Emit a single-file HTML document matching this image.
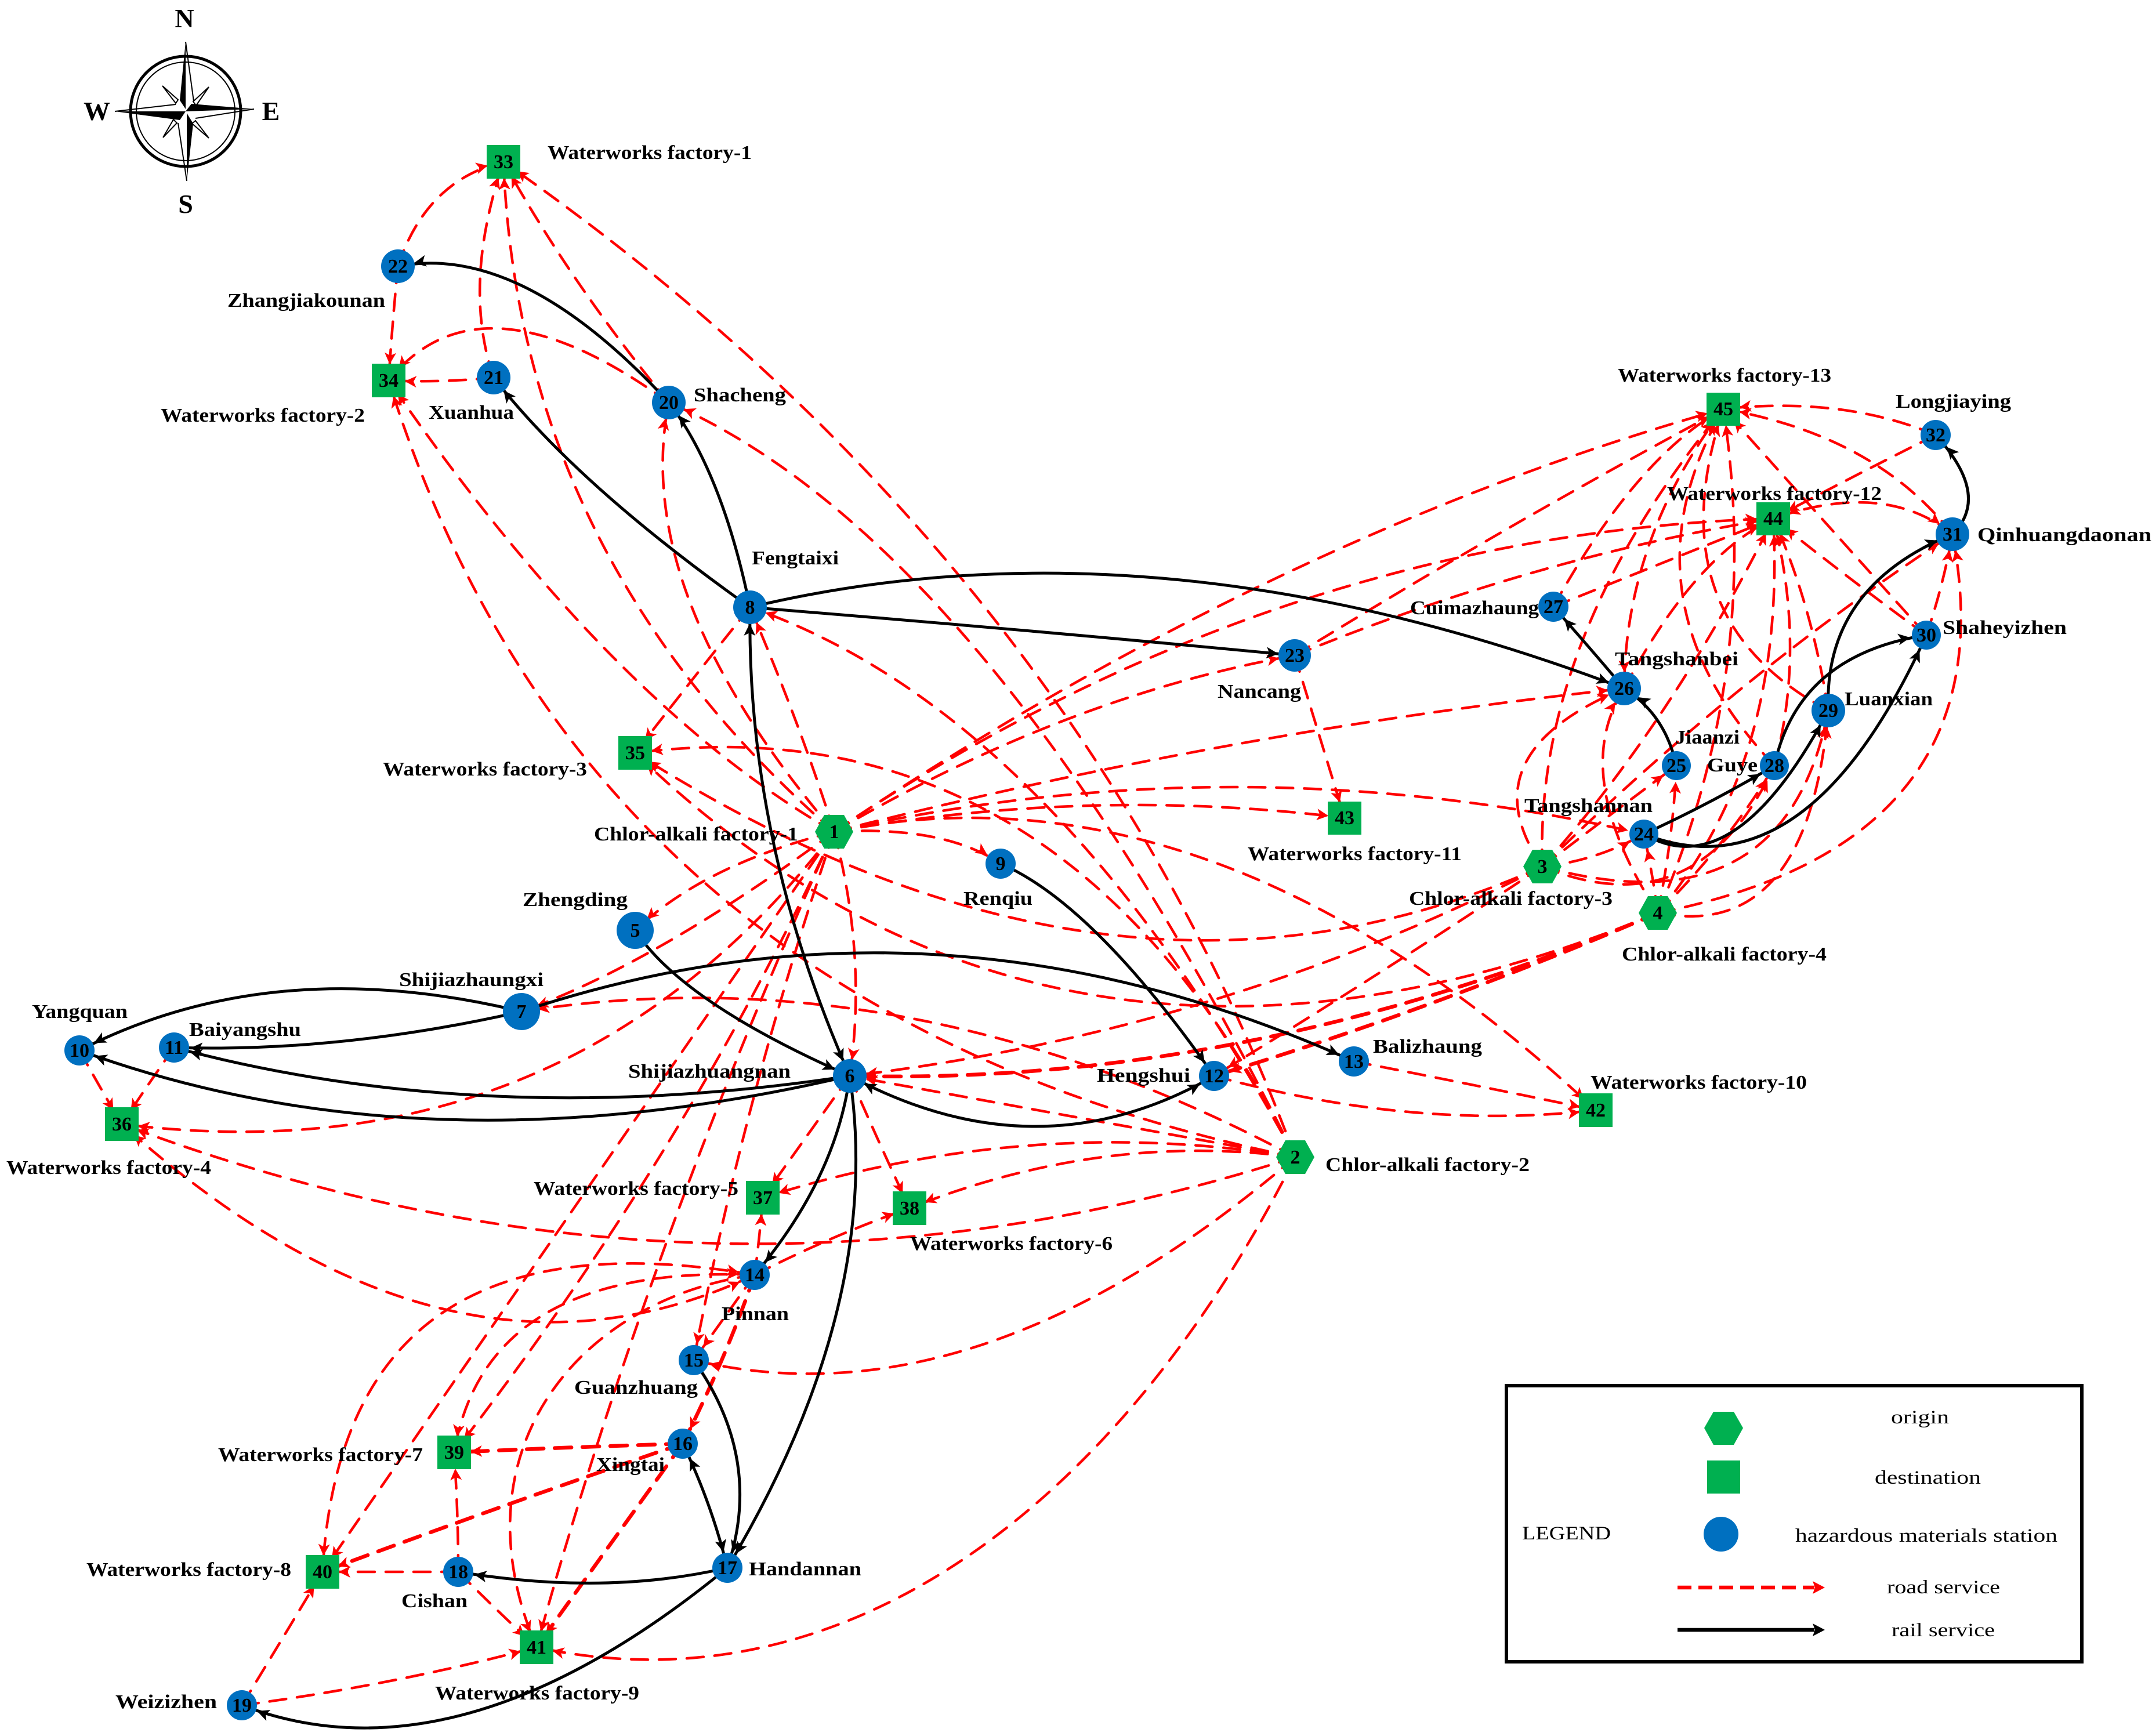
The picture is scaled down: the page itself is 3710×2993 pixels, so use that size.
<!DOCTYPE html>
<html><head><meta charset="utf-8"><title>Hazardous materials network</title>
<style>
html,body{margin:0;padding:0;background:#fff}
svg{display:block}
.red path{fill:none;stroke:#f00;stroke-width:4.5;stroke-dasharray:29 19;stroke-linecap:round;marker-end:url(#R)}
.red path.b{marker-start:url(#R)}
.red path.t{stroke-width:6.5}
.blk path{fill:none;stroke:#000;stroke-width:5;marker-end:url(#K)}
.blk path.b{marker-start:url(#K)}
text{font-family:"Liberation Serif",serif;fill:#000}
.n text{font-size:34px;font-weight:bold;text-anchor:middle}
.l text{font-size:34px;font-weight:bold}
.lg text{font-size:33px}
.c text{font-size:46px;font-weight:bold;text-anchor:middle}
</style></head><body>
<svg xmlns="http://www.w3.org/2000/svg" width="3710" height="2993" viewBox="0 0 3710 2993">
<defs>
<marker id="R" markerUnits="userSpaceOnUse" markerWidth="1" markerHeight="1" refX="0" refY="0" orient="auto-start-reverse" overflow="visible"><polygon points="-28,0 -48,-10 -43,0 -48,10" fill="#f00"/></marker>
<marker id="K" markerUnits="userSpaceOnUse" markerWidth="1" markerHeight="1" refX="0" refY="0" orient="auto-start-reverse" overflow="visible"><polygon points="-28,0 -49,-10 -44,0 -49,10" fill="#000"/></marker>
</defs>
<rect width="3710" height="2993" fill="#fff"/>

<!-- compass -->
<g class="c">
<circle cx="320" cy="192" r="95" fill="none" stroke="#000" stroke-width="5"/>
<circle cx="320" cy="192" r="85" fill="none" stroke="#000" stroke-width="2"/>
<g fill="#000"><polygon points="320,72 310,173 320,188"/><polygon points="438,188 330,179 320,192"/><polygon points="322,312 333,213 322,195"/><polygon points="198,192 310,207 320,192"/></g>
<g fill="none" stroke="#000" stroke-width="2"><path d="M320 72L334 175M438 188L337 204M322 312L307 212M198 192L303 180"/><path d="M280 148L307 172L303 178ZM360 150L333 175L338 182ZM360 238L337 208L331 213ZM281 237L305 212L299 206Z"/></g>
<text x="318" y="47">N</text><text x="167" y="207">W</text><text x="467" y="207">E</text><text x="320" y="367">S</text>
</g>

<g class="red">
<path d="M686 459Q735 311 868 279"/>
<path d="M686 459Q676 560 670 656"/>
<path d="M851 651Q760 660 670 656"/>
<path d="M851 651Q796 491 868 279"/>
<path d="M1153 694Q829 459 670 656"/>
<path d="M1153 694Q985 490 868 279"/>
<path d="M1293 1047Q1190 1175 1095 1298"/>
<path d="M1438 1434Q1380 1250 1293 1047"/>
<path d="M1438 1434Q895 962 868 279"/>
<path d="M1438 1434Q1054 1215 670 656"/>
<path d="M1438 1434Q1087 1022 1153 694"/>
<path d="M2233 1995Q1850 963 868 279"/>
<path d="M2233 1995Q1707 936 1153 694"/>
<path d="M2233 1995Q1817 1229 1293 1047"/>
<path d="M2233 1995Q1009 1745 670 656"/>
<path d="M2233 1995Q1836 1204 1095 1298"/>
<path d="M2659 1494Q1923 1824 1095 1298"/>
<path d="M2858 1574Q1824 2000 1095 1298"/>
<path class="t" d="M2858 1574Q2473 1740 2093 1855"/>
<path d="M2659 1494Q2380 1680 2093 1855"/>
<path class="t" d="M2858 1574Q2161 1872 1465 1855"/>
<path d="M2659 1494Q2100 1780 1465 1855"/>
<path d="M2233 1995Q1566 1640 899 1744"/>
<path d="M2233 1995Q1849 1925 1465 1855"/>
<path d="M2233 1995Q1774 1920 1315 2065"/>
<path d="M2233 1995Q1900 1951 1568 2083"/>
<path d="M2233 1995Q1221 2320 210 1938"/>
<path d="M2233 1995Q1686 2462 1196 2345"/>
<path d="M2233 1995C1950 2560 1480 2960 925 2840"/>
<path d="M2093 1855Q2440 1950 2751 1914"/>
<path d="M2334 1830Q2540 1870 2751 1914"/>
<path d="M1438 1434Q2094 1300 2751 1914"/>
<path d="M1438 1434Q1878 1356 2318 1410"/>
<path d="M1438 1434Q2136 1278 2834 1438"/>
<path d="M1438 1434Q1627 1423 1725 1489"/>
<path d="M1438 1434Q1214 1491 1095 1604"/>
<path d="M1438 1434Q1495 1647 1465 1855"/>
<path d="M1438 1434Q2120 1260 2800 1187"/>
<path d="M1438 1434Q2200 920 3057 894"/>
<path d="M1438 1434Q2204 920 2971 705"/>
<path d="M1438 1434Q1840 1200 2232 1130"/>
<path d="M2232 1130Q2606 900 2971 705"/>
<path d="M2232 1130Q2649 960 3057 894"/>
<path d="M2232 1130Q2275 1270 2318 1410"/>
<path d="M2678 1046Q2822 787 2971 705"/>
<path d="M2678 1046Q2867 970 3057 894"/>
<path d="M2659 1494Q2645 1100 2971 705"/>
<path d="M2659 1494Q2526 1300 2800 1187"/>
<path d="M2659 1494Q2775 1405 2890 1320"/>
<path d="M2659 1494Q2750 1485 2834 1438"/>
<path d="M2659 1494Q2926 1604 3059 1320"/>
<path d="M2659 1494Q3077 1609 3152 1225"/>
<path d="M2659 1494Q3000 1160 3366 921"/>
<path d="M2659 1494Q2882 1246 3057 894"/>
<path d="M2858 1574Q2704 1336 2800 1187"/>
<path d="M2858 1574Q2848 1500 2834 1438"/>
<path d="M2858 1574Q2885 1440 2890 1320"/>
<path d="M2858 1574Q2981 1452 3059 1320"/>
<path d="M2858 1574Q3117 1625 3152 1225"/>
<path d="M2858 1574Q3468 1453 3366 921"/>
<path d="M2858 1574Q3040 1154 2971 705"/>
<path d="M2858 1574Q3080 1312 3057 894"/>
<path d="M3059 1320Q3114 1118 3057 894"/>
<path d="M3152 1225Q3123 1040 3057 894"/>
<path d="M2800 1187Q2920 960 3057 894"/>
<path class="b" d="M2971 705Q2802 929 2800 1187"/>
<path d="M3059 1320Q2785 1030 2971 705"/>
<path d="M3152 1225Q2851 1064 2971 705"/>
<path d="M3321 1095Q3146 900 2971 705"/>
<path d="M3321 1095Q3190 1000 3057 894"/>
<path d="M3321 1095Q3350 1010 3366 921"/>
<path d="M3337 750Q3178 683 2971 705"/>
<path d="M3337 750Q3197 820 3057 894"/>
<path d="M3366 921Q3234 751 2971 705"/>
<path class="b" d="M3366 921Q3249 827 3057 894"/>
<path d="M1465 1855Q1390 1960 1315 2065"/>
<path d="M1465 1855Q1515 1970 1568 2083"/>
<path d="M1301 2198Q1310 2130 1315 2065"/>
<path d="M1301 2198Q1434 2130 1568 2083"/>
<path class="b" d="M1301 2198Q592 2076 556 2710"/>
<path class="b" d="M1301 2198Q838 2179 783 2504"/>
<path class="b" d="M1301 2198Q775 2446 210 1938"/>
<path d="M1301 2198C1000 2240 780 2500 925 2840"/>
<path class="t" d="M1301 2198Q1250 2345 1177 2489"/>
<path d="M1301 2198Q1250 2270 1196 2345"/>
<path d="M1438 1434Q1283 1890 1196 2345"/>
<path d="M1438 1434Q1120 2137 925 2840"/>
<path d="M1438 1434Q1186 1983 783 2504"/>
<path d="M1438 1434Q997 2072 556 2710"/>
<path d="M1438 1434Q976 2034 210 1938"/>
<path d="M1438 1434Q1132 1660 899 1744"/>
<path class="t" d="M1177 2489Q980 2495 783 2504"/>
<path class="t" d="M1177 2489Q880 2590 556 2710"/>
<path class="t" d="M1177 2489Q1050 2665 925 2840"/>
<path d="M790 2710Q790 2610 783 2504"/>
<path d="M790 2710Q673 2710 556 2710"/>
<path d="M790 2710Q860 2780 925 2840"/>
<path d="M417 2940Q490 2820 556 2710"/>
<path d="M417 2940Q680 2905 925 2840"/>
<path d="M137 1811Q175 1880 210 1938"/>
<path d="M300 1806Q255 1870 210 1938"/>
</g>

<g class="blk">
<path d="M1153 694Q899 418 686 459"/>
<path d="M1293 1047Q994 835 851 651"/>
<path d="M1293 1047Q1245 814 1153 694"/>
<path d="M1293 1047Q1775 1086 2232 1130"/>
<path d="M1293 1047Q1993 880 2800 1187"/>
<path class="b" d="M1465 1855Q1287 1451 1293 1047"/>
<path d="M1095 1604Q1176 1728 1465 1855"/>
<path d="M899 1744Q1616 1505 2334 1830"/>
<path d="M899 1744Q470 1640 137 1811"/>
<path d="M899 1744Q586 1815 300 1806"/>
<path d="M1465 1855Q840 1950 300 1806"/>
<path d="M1465 1855Q729 2027 137 1811"/>
<path d="M1465 1855Q1441 2032 1301 2198"/>
<path d="M1465 1855Q1524 2251 1254 2703"/>
<path d="M1196 2345Q1317 2516 1254 2703"/>
<path class="b" d="M1177 2489Q1226 2590 1254 2703"/>
<path d="M1254 2703Q1044 2752 790 2710"/>
<path d="M1254 2703Q791 3083 417 2940"/>
<path d="M1725 1489Q1885 1558 2093 1855"/>
<path class="b" d="M1465 1855Q1790 2029 2093 1855"/>
<path d="M2834 1438Q2950 1385 3059 1320"/>
<path d="M2834 1438Q2990 1530 3152 1225"/>
<path d="M2834 1438Q3115 1548 3321 1095"/>
<path d="M3059 1320Q3100 1129 3321 1095"/>
<path d="M3152 1225Q3143 1012 3366 921"/>
<path d="M3366 921Q3433 855 3337 750"/>
<path d="M2800 1187Q2735 1110 2678 1046"/>
<path d="M2890 1320Q2871 1232 2800 1187"/>
</g>

<g class="n" fill="#0070C0">
<circle cx="1095" cy="1604" r="32"/><circle cx="899" cy="1744" r="32"/><circle cx="1465" cy="1855" r="29"/><circle cx="1293" cy="1047" r="29"/><circle cx="1725" cy="1489" r="26"/><circle cx="137" cy="1811" r="26"/><circle cx="300" cy="1806" r="26"/><circle cx="2093" cy="1855" r="26"/><circle cx="2334" cy="1830" r="26"/><circle cx="1301" cy="2198" r="26"/><circle cx="1196" cy="2345" r="26"/><circle cx="1177" cy="2489" r="26"/><circle cx="1254" cy="2703" r="26"/><circle cx="790" cy="2710" r="26"/><circle cx="417" cy="2940" r="26"/><circle cx="1153" cy="694" r="29"/><circle cx="851" cy="651" r="29"/><circle cx="686" cy="459" r="29"/><circle cx="2232" cy="1130" r="28"/><circle cx="2834" cy="1438" r="25"/><circle cx="2890" cy="1320" r="25"/><circle cx="2800" cy="1187" r="29"/><circle cx="2678" cy="1046" r="26"/><circle cx="3059" cy="1320" r="25"/><circle cx="3152" cy="1225" r="29"/><circle cx="3321" cy="1095" r="25"/><circle cx="3366" cy="921" r="29"/><circle cx="3337" cy="750" r="26"/>
<g fill="#00B050">
<rect x="839" y="250" width="58" height="58"/><rect x="641" y="627" width="58" height="58"/><rect x="1066" y="1269" width="58" height="58"/><rect x="181" y="1909" width="58" height="58"/><rect x="1286" y="2036" width="58" height="58"/><rect x="1539" y="2054" width="58" height="58"/><rect x="754" y="2475" width="58" height="58"/><rect x="527" y="2681" width="58" height="58"/><rect x="896" y="2811" width="58" height="58"/><rect x="2722" y="1885" width="58" height="58"/><rect x="2289" y="1382" width="58" height="57"/><rect x="3028" y="866" width="58" height="57"/><rect x="2942" y="677" width="58" height="57"/>
<polygon points="1405,1434 1421,1405 1455,1405 1471,1434 1455,1463 1421,1463"/>
<polygon points="2200,1995 2216,1966 2250,1966 2266,1995 2250,2024 2216,2024"/>
<polygon points="2626,1494 2642,1465 2676,1465 2692,1494 2676,1523 2642,1523"/>
<polygon points="2825,1574 2841,1545 2875,1545 2891,1574 2875,1603 2841,1603"/>
</g>
<text x="1438" y="1445">1</text><text x="2233" y="2006">2</text><text x="2659" y="1505">3</text><text x="2858" y="1585">4</text><text x="1095" y="1615">5</text><text x="1465" y="1866">6</text><text x="899" y="1755">7</text><text x="1293" y="1058">8</text><text x="1725" y="1500">9</text><text x="137" y="1822">10</text><text x="300" y="1817">11</text><text x="2093" y="1866">12</text><text x="2334" y="1841">13</text><text x="1301" y="2209">14</text><text x="1196" y="2356">15</text><text x="1177" y="2500">16</text><text x="1254" y="2714">17</text><text x="790" y="2721">18</text><text x="417" y="2951">19</text><text x="1153" y="705">20</text><text x="851" y="662">21</text><text x="686" y="470">22</text><text x="2232" y="1141">23</text><text x="2834" y="1449">24</text><text x="2890" y="1331">25</text><text x="2800" y="1198">26</text><text x="2678" y="1057">27</text><text x="3059" y="1331">28</text><text x="3152" y="1236">29</text><text x="3321" y="1106">30</text><text x="3366" y="932">31</text><text x="3337" y="761">32</text><text x="868" y="290">33</text><text x="670" y="667">34</text><text x="1095" y="1309">35</text><text x="210" y="1949">36</text><text x="1315" y="2076">37</text><text x="1568" y="2094">38</text><text x="783" y="2515">39</text><text x="556" y="2721">40</text><text x="925" y="2851">41</text><text x="2751" y="1925">42</text><text x="2318" y="1421">43</text><text x="3057" y="905">44</text><text x="2971" y="716">45</text>
</g>

<g class="l">
<text x="944" y="274" textLength="352" lengthAdjust="spacingAndGlyphs">Waterworks factory-1</text>
<text x="392" y="529" textLength="272" lengthAdjust="spacingAndGlyphs">Zhangjiakounan</text>
<text x="277" y="727" textLength="352" lengthAdjust="spacingAndGlyphs">Waterworks factory-2</text>
<text x="739" y="722" textLength="147" lengthAdjust="spacingAndGlyphs">Xuanhua</text>
<text x="1196" y="692" textLength="159" lengthAdjust="spacingAndGlyphs">Shacheng</text>
<text x="1296" y="973" textLength="150" lengthAdjust="spacingAndGlyphs">Fengtaixi</text>
<text x="660" y="1337" textLength="352" lengthAdjust="spacingAndGlyphs">Waterworks factory-3</text>
<text x="1024" y="1449" textLength="352" lengthAdjust="spacingAndGlyphs">Chlor-alkali factory-1</text>
<text x="2789" y="658" textLength="368" lengthAdjust="spacingAndGlyphs">Waterworks factory-13</text>
<text x="3268" y="703" textLength="199" lengthAdjust="spacingAndGlyphs">Longjiaying</text>
<text x="2874" y="862" textLength="370" lengthAdjust="spacingAndGlyphs">Waterworks factory-12</text>
<text x="3409" y="933" textLength="300" lengthAdjust="spacingAndGlyphs">Qinhuangdaonan</text>
<text x="2431" y="1059" textLength="222" lengthAdjust="spacingAndGlyphs">Cuimazhaung</text>
<text x="2099" y="1203" textLength="144" lengthAdjust="spacingAndGlyphs">Nancang</text>
<text x="3349" y="1093" textLength="214" lengthAdjust="spacingAndGlyphs">Shaheyizhen</text>
<text x="2784" y="1147" textLength="213" lengthAdjust="spacingAndGlyphs">Tangshanbei</text>
<text x="3180" y="1216" textLength="152" lengthAdjust="spacingAndGlyphs">Luanxian</text>
<text x="2888" y="1282" textLength="111" lengthAdjust="spacingAndGlyphs">Jiaanzi</text>
<text x="2943" y="1330" textLength="87" lengthAdjust="spacingAndGlyphs">Guye</text>
<text x="2628" y="1400" textLength="221" lengthAdjust="spacingAndGlyphs">Tangshannan</text>
<text x="2429" y="1560" textLength="351" lengthAdjust="spacingAndGlyphs">Chlor-alkali factory-3</text>
<text x="2796" y="1656" textLength="353" lengthAdjust="spacingAndGlyphs">Chlor-alkali factory-4</text>
<text x="2151" y="1483" textLength="369" lengthAdjust="spacingAndGlyphs">Waterworks factory-11</text>
<text x="1661" y="1560" textLength="119" lengthAdjust="spacingAndGlyphs">Renqiu</text>
<text x="2367" y="1815" textLength="188" lengthAdjust="spacingAndGlyphs">Balizhaung</text>
<text x="1891" y="1865" textLength="161" lengthAdjust="spacingAndGlyphs">Hengshui</text>
<text x="2742" y="1877" textLength="373" lengthAdjust="spacingAndGlyphs">Waterworks factory-10</text>
<text x="2285" y="2019" textLength="352" lengthAdjust="spacingAndGlyphs">Chlor-alkali factory-2</text>
<text x="901" y="1562" textLength="181" lengthAdjust="spacingAndGlyphs">Zhengding</text>
<text x="688" y="1700" textLength="249" lengthAdjust="spacingAndGlyphs">Shijiazhaungxi</text>
<text x="55" y="1755" textLength="165" lengthAdjust="spacingAndGlyphs">Yangquan</text>
<text x="326" y="1786" textLength="193" lengthAdjust="spacingAndGlyphs">Baiyangshu</text>
<text x="1083" y="1858" textLength="280" lengthAdjust="spacingAndGlyphs">Shijiazhuangnan</text>
<text x="11" y="2024" textLength="353" lengthAdjust="spacingAndGlyphs">Waterworks factory-4</text>
<text x="920" y="2060" textLength="353" lengthAdjust="spacingAndGlyphs">Waterworks factory-5</text>
<text x="1569" y="2155" textLength="349" lengthAdjust="spacingAndGlyphs">Waterworks factory-6</text>
<text x="1244" y="2276" textLength="116" lengthAdjust="spacingAndGlyphs">Pinnan</text>
<text x="990" y="2403" textLength="213" lengthAdjust="spacingAndGlyphs">Guanzhuang</text>
<text x="376" y="2519" textLength="353" lengthAdjust="spacingAndGlyphs">Waterworks factory-7</text>
<text x="1028" y="2536" textLength="118" lengthAdjust="spacingAndGlyphs">Xingtai</text>
<text x="149" y="2717" textLength="353" lengthAdjust="spacingAndGlyphs">Waterworks factory-8</text>
<text x="1291" y="2716" textLength="194" lengthAdjust="spacingAndGlyphs">Handannan</text>
<text x="692" y="2771" textLength="114" lengthAdjust="spacingAndGlyphs">Cishan</text>
<text x="750" y="2930" textLength="352" lengthAdjust="spacingAndGlyphs">Waterworks factory-9</text>
<text x="199" y="2945" textLength="175" lengthAdjust="spacingAndGlyphs">Weizizhen</text>
</g>

<g class="lg">
<rect x="2597" y="2389" width="992" height="476" fill="none" stroke="#000" stroke-width="6"/>
<polygon fill="#00B050" points="2938,2462 2954,2434 2989,2434 3005,2462 2989,2491 2954,2491"/>
<rect x="2943" y="2518" width="57" height="57" fill="#00B050"/>
<ellipse cx="2967" cy="2645" rx="30" ry="30" fill="#0070C0"/>
<line x1="2892" y1="2737" x2="3128" y2="2737" stroke="#f00" stroke-width="6.5" stroke-dasharray="24 12"/>
<polygon points="3125,2726 3146,2737 3125,2748 3129,2737" fill="#f00"/>
<line x1="2892" y1="2810" x2="3128" y2="2810" stroke="#000" stroke-width="6.5"/>
<polygon points="3125,2799 3146,2810 3125,2821 3129,2810" fill="#000"/>
<text x="2624" y="2654" textLength="153" lengthAdjust="spacingAndGlyphs">LEGEND</text>
<text x="3260" y="2454" textLength="100" lengthAdjust="spacingAndGlyphs">origin</text>
<text x="3232" y="2558" textLength="183" lengthAdjust="spacingAndGlyphs">destination</text>
<text x="3095" y="2658" textLength="452" lengthAdjust="spacingAndGlyphs">hazardous materials station</text>
<text x="3253" y="2747" textLength="195" lengthAdjust="spacingAndGlyphs">road service</text>
<text x="3261" y="2821" textLength="178" lengthAdjust="spacingAndGlyphs">rail service</text>
</g>
</svg>
</body></html>
